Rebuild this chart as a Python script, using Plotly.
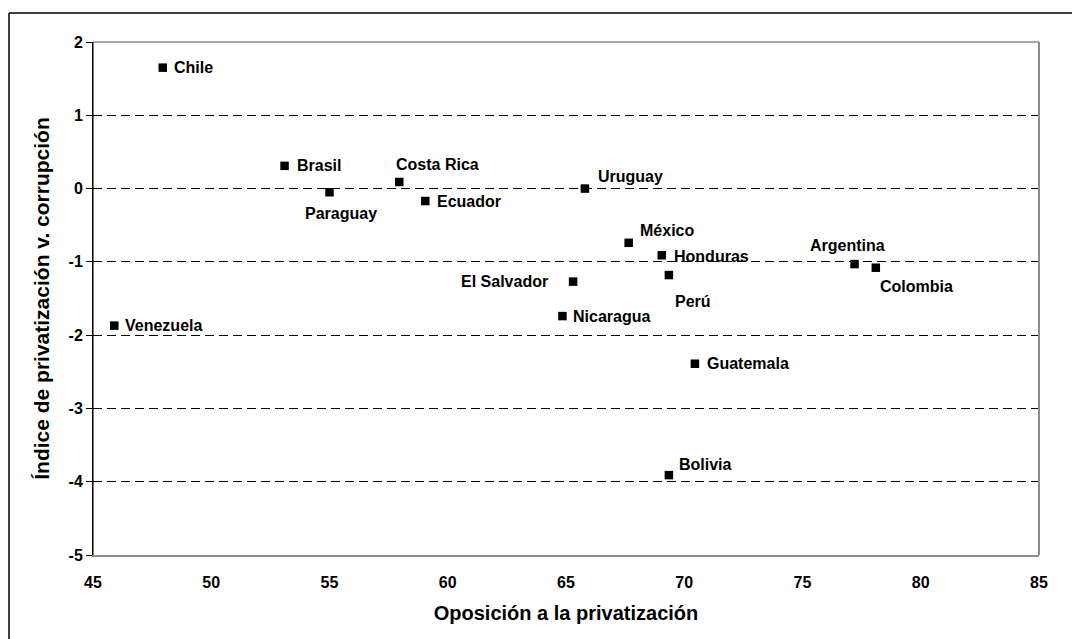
import plotly.graph_objects as go

countries = ["Chile", "Brasil", "Paraguay", "Costa Rica", "Ecuador", "Uruguay", "México",
             "Honduras", "Perú", "El Salvador", "Nicaragua", "Venezuela", "Guatemala",
             "Bolivia", "Argentina", "Colombia"]
oposicion = [47.95, 53.1, 55.0, 57.95, 59.05, 65.8, 67.65, 69.05, 69.35, 65.3, 64.85,
             45.9, 70.45, 69.35, 77.2, 78.1]
indice = [1.65, 0.31, -0.05, 0.09, -0.17, 0.0, -0.74, -0.91, -1.18, -1.27, -1.74,
          -1.87, -2.39, -3.91, -1.03, -1.08]

x_ticks = [45, 50, 55, 60, 65, 70, 75, 80, 85]
y_ticks = [-5, -4, -3, -2, -1, 0, 1, 2]

# label placement (style): pixel offset from marker and anchor
label_dx = [11, 12, 11, -3, 12, 13, 11, 12, 6, -25, 11, 11, 12, 10, -7, 4]
label_dy = [0, 0, -21, 17, 0, 12, 12, -1, -26, 0, 0, 0, 0, 11, 19, -19]
label_anchor = ["left", "left", "center", "left", "left", "left", "left", "left", "left",
                "right", "left", "left", "left", "left", "center", "left"]

FONT = "Liberation Sans, Arial, sans-serif"

fig = go.Figure()
fig.add_trace(go.Scatter(
    x=oposicion, y=indice, mode="markers",
    marker=dict(symbol="square", size=8.5, color="black"),
    hovertext=countries, showlegend=False,
))

for name, xv, yv, dx, dy, anc in zip(countries, oposicion, indice, label_dx, label_dy, label_anchor):
    pad = -2 if anc == "left" else (2 if anc == "right" else 0)
    fig.add_annotation(
        x=xv, y=yv, text=f"<b>{name}</b>", showarrow=False,
        xanchor=anc, yanchor="middle", xshift=dx + pad, yshift=dy,
        font=dict(family=FONT, size=16, color="black"),
    )

fig.update_layout(
    width=1080, height=639,
    margin=dict(l=85, r=49, t=34, b=92),
    paper_bgcolor="white", plot_bgcolor="white",
    font=dict(family=FONT, color="black"),
    xaxis=dict(
        range=[45, 85], tickvals=x_ticks, ticktext=[f"<b>{v}</b>" for v in x_ticks],
        tickfont=dict(size=16, family=FONT, color="black"),
        showgrid=False, zeroline=False, showline=True, linecolor="#8c8c8c", linewidth=1.5,
        ticks="", ticklabelstandoff=12,
        title=dict(text="<b>Oposición a la privatización</b>",
                   font=dict(size=20, family=FONT, color="black"), standoff=16),
    ),
    yaxis=dict(
        range=[-5, 2], tickvals=y_ticks, ticktext=[f"<b>{v}</b>" for v in y_ticks],
        tickfont=dict(size=16, family=FONT, color="black"),
        showgrid=True, gridcolor="black", gridwidth=1, griddash="9px,5px",
        zeroline=False, showline=True, linecolor="black", linewidth=1,
        ticks="outside", ticklen=6, tickcolor="black", tickwidth=1,
        title=dict(text="<b>Índice de privatización v. corrupción</b>",
                   font=dict(size=21, family=FONT, color="black"), standoff=13),
    ),
)

# plot-area border (gray top/right) and outer chart frame (black)
fig.add_shape(type="line", xref="paper", yref="paper", x0=0, x1=1, y0=1, y1=1,
              line=dict(color="#8c8c8c", width=1.5), layer="above")
fig.add_shape(type="line", xref="paper", yref="paper", x0=1, x1=1, y0=0, y1=1,
              line=dict(color="#8c8c8c", width=2), layer="above")
fig.add_shape(type="line", xref="paper", yref="paper", x0=0, x1=0, y0=0, y1=1,
              line=dict(color="black", width=1), layer="above")
fig.add_shape(type="line", xref="paper", yref="paper", x0=-0.0888, x1=-0.0888, y0=-0.3, y1=1.0565,
              line=dict(color="black", width=1.5), layer="above")
fig.add_shape(type="line", xref="paper", yref="paper", x0=-0.0888, x1=1.2, y0=1.0565, y1=1.0565,
              line=dict(color="black", width=1.5), layer="above")

fig.write_html("out.html")
